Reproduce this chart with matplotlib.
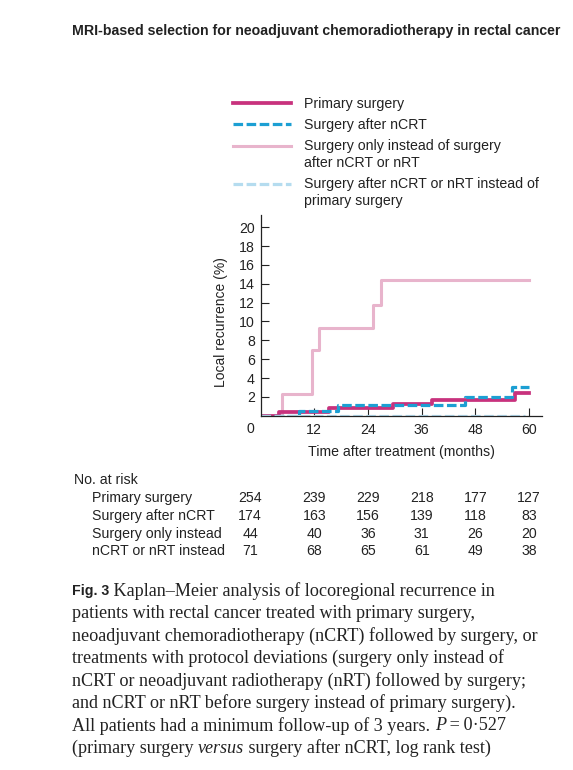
import numpy as np
import matplotlib.pyplot as plt
from matplotlib.transforms import blended_transform_factory
from matplotlib.legend_handler import HandlerLine2D

# Figure size in pixels
W, H = 573, 770

# Kaplan-Meier steps (months, local recurrence %)
primary_t = [0, 4.2, 15.2, 29.5, 38.2, 56.8, 60]
primary_y = [0, 0.4, 0.8, 1.25, 1.7, 2.4, 2.4]
ncrt_t = [0, 8.7, 17.4, 45.7, 56.2, 60]
ncrt_y = [0, 0.5, 1.1, 2.0, 3.05, 3.05]
only_t = [0, 4.7, 11.4, 13.1, 25.2, 27.0, 60]
only_y = [0, 2.3, 7.0, 9.3, 11.8, 14.4, 14.4]
instead_t = [0, 59]
instead_y = [0, 0]

series_labels = ['Primary surgery',
                 'Surgery after nCRT',
                 'Surgery only instead of surgery\nafter nCRT or nRT',
                 'Surgery after nCRT or nRT instead of\nprimary surgery']

# numbers at risk
risk_times = [0, 12, 24, 36, 48, 60]
risk_rows = ['Primary surgery', 'Surgery after nCRT', 'Surgery only instead', 'nCRT or nRT instead']
risk_primary = [254, 239, 229, 218, 177, 127]
risk_ncrt = [174, 163, 156, 139, 118, 83]
risk_only = [44, 40, 36, 31, 26, 20]
risk_instead = [71, 68, 65, 61, 49, 38]

xticks = [12, 24, 36, 48, 60]
yticks = [2, 4, 6, 8, 10, 12, 14, 16, 18, 20]

c_primary = '#c8327d'
c_ncrt = '#1c9fd3'
c_only = '#e8b4cc'
c_instead = '#b5dcef'
ink = '#222222'

plt.rcParams['font.family'] = ['Liberation Sans', 'DejaVu Sans']
serif = ['Liberation Serif', 'DejaVu Serif']
fs = 10.2


class HandlerShift(HandlerLine2D):
    # moves the legend key up so it sits beside the first line of a two-line label
    def __init__(self, shift=0.0, **kw):
        super().__init__(**kw)
        self.shift = shift

    def create_artists(self, legend, orig_handle, xdescent, ydescent, width, height,
                       fontsize, trans):
        arts = super().create_artists(legend, orig_handle, xdescent, ydescent, width,
                                      height, fontsize, trans)
        for a in arts:
            a.set_ydata(np.asarray(a.get_ydata()) + self.shift)
        return arts


fig = plt.figure(figsize=(W / 100, H / 100), dpi=100)

def fx(x):
    return x / W

def fy(y):
    return 1 - y / H

ax = fig.add_axes([fx(260.5), fy(415.7), (541.7 - 260.5) / W, (415.7 - 215) / H])

l_only, = ax.step(only_t, only_y, where='post', color=c_only, lw=2.2)
l_primary, = ax.step(primary_t, primary_y, where='post', color=c_primary, lw=2.7)
l_ncrt, = ax.step(ncrt_t, ncrt_y, where='post', color=c_ncrt, lw=2.3, dashes=(3.0, 1.1))
l_instead, = ax.step(instead_t, instead_y, where='post', color=c_instead, lw=2.3,
                     dashes=(3.0, 1.1))

ax.set_xlim(0, 62.8)
ax.set_ylim(0, 21.3)
ax.set_xticks(xticks)
ax.set_yticks(yticks)
ax.tick_params(direction='in', length=6, width=0.8, labelsize=fs, colors=ink, pad=4)
ax.tick_params(axis='x', pad=5)
for s in ['top', 'right']:
    ax.spines[s].set_visible(False)
for s in ['left', 'bottom']:
    ax.spines[s].set_linewidth(0.9)
    ax.spines[s].set_color(ink)
ax.text(-2.3, -0.65, '0', ha='center', va='top', fontsize=fs, color=ink)
ax.set_xlabel('Time after treatment (months)', fontsize=fs, color=ink, labelpad=6)
fig.text(fx(221), fy(322), 'Local recurrence (%)', rotation=90, ha='center', va='center',
         fontsize=10, color=ink)

leg = fig.legend([l_primary, l_ncrt, l_only, l_instead], series_labels,
                 loc='upper left', bbox_to_anchor=(fx(233), fy(97)), frameon=False,
                 fontsize=fs, handlelength=4.1, handletextpad=0.9, labelspacing=0.5,
                 borderaxespad=0, borderpad=0,
                 handler_map={l_only: HandlerShift(6.3), l_instead: HandlerShift(6.3)})
for t in leg.get_texts():
    t.set_color(ink)
    t.set_linespacing(1.25)

# title
fig.text(fx(72), fy(31), 'MRI-based selection for neoadjuvant chemoradiotherapy in rectal cancer',
         fontsize=10.2, fontweight='bold', color=ink, va='center')

# numbers at risk table
tr = blended_transform_factory(ax.transData, fig.transFigure)
fig.text(fx(74), fy(480), 'No. at risk', fontsize=fs, va='center', color=ink)
risk_values = [risk_primary, risk_ncrt, risk_only, risk_instead]
for i, (name, vals) in enumerate(zip(risk_rows, risk_values)):
    yy = fy(498 + i * 17.8)
    fig.text(fx(92), yy, name, fontsize=fs, va='center', color=ink)
    for t, v in zip(risk_times, vals):
        xpos = t if t > 0 else -2.3
        ax.text(xpos, yy, str(v), transform=tr, ha='center', va='center', fontsize=fs,
                color=ink)

# caption
cap_lines = [
    [('Fig. 3', 'bold'), (' Kaplan\u2013Meier analysis of locoregional recurrence in', 'normal')],
    [('patients with rectal cancer treated with primary surgery,', 'normal')],
    [('neoadjuvant chemoradiotherapy (nCRT) followed by surgery, or', 'normal')],
    [('treatments with protocol deviations (surgery only instead of', 'normal')],
    [('nCRT or neoadjuvant radiotherapy (nRT) followed by surgery;', 'normal')],
    [('and nCRT or nRT before surgery instead of primary surgery).', 'normal')],
    [('All patients had a minimum follow-up of 3 years. ', 'normal'), ('P', 'italic'),
     ('\u2009=\u20090\u00b7527', 'normal')],
    [('(primary surgery ', 'normal'), ('versus', 'italic'),
     (' surgery after nCRT, log rank test)', 'normal')],
]
renderer = fig.canvas.get_renderer()
for i, pieces in enumerate(cap_lines):
    x = 72
    yy = fy(591 + i * 22.5)
    for txt, style in pieces:
        if style == 'bold':
            t = fig.text(fx(x), yy, txt, fontsize=10.2, fontweight='bold', va='center',
                         color=ink)
        elif style == 'italic':
            t = fig.text(fx(x), yy, txt, fontsize=13.1, family=serif, style='italic',
                         va='center', color=ink)
        else:
            t = fig.text(fx(x), yy, txt, fontsize=13.1, family=serif, va='center',
                         color=ink)
        x += t.get_window_extent(renderer).width

fig.savefig('out.png', dpi=100)
